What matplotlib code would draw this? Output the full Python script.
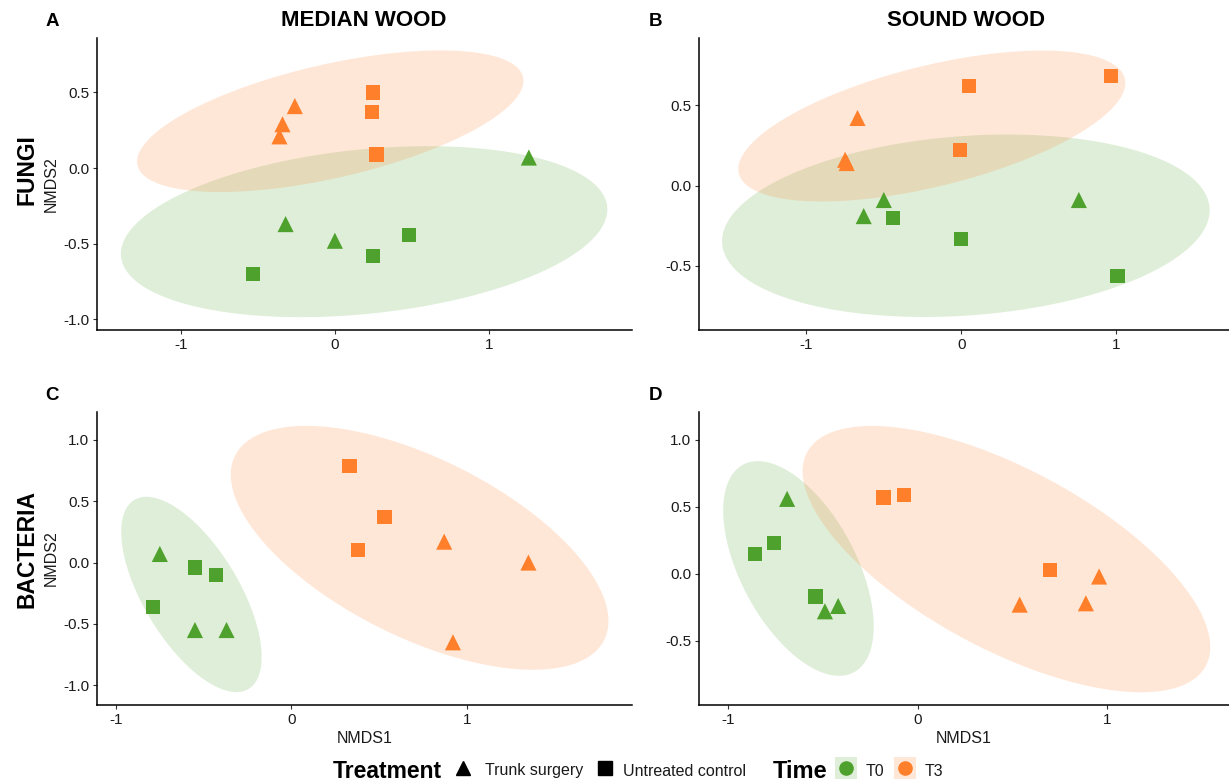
import numpy as np
import matplotlib
matplotlib.use("Agg")
import matplotlib.pyplot as plt
from matplotlib.patches import Polygon, Rectangle

plt.rcParams['font.family'] = ['Liberation Sans', 'DejaVu Sans']

# ---- data: NMDS scores per panel (x = NMDS1, y = NMDS2) ----
# Panel A: fungi, median wood
a_t0_surgery_x = [1.26, -0.32, 0.00]
a_t0_surgery_y = [0.07, -0.37, -0.48]
a_t0_control_x = [-0.53, 0.25, 0.48]
a_t0_control_y = [-0.70, -0.58, -0.44]
a_t3_surgery_x = [-0.26, -0.34, -0.36]
a_t3_surgery_y = [0.41, 0.29, 0.21]
a_t3_control_x = [0.25, 0.24, 0.27]
a_t3_control_y = [0.50, 0.37, 0.09]

# Panel B: fungi, sound wood
b_t0_surgery_x = [-0.50, -0.63, 0.76]
b_t0_surgery_y = [-0.09, -0.19, -0.09]
b_t0_control_x = [-0.44, 0.00, 1.01]
b_t0_control_y = [-0.20, -0.33, -0.56]
b_t3_surgery_x = [-0.67, -0.75, -0.74]
b_t3_surgery_y = [0.42, 0.16, 0.14]
b_t3_control_x = [0.97, 0.05, -0.01]
b_t3_control_y = [0.68, 0.62, 0.22]

# Panel C: bacteria, median wood
c_t0_surgery_x = [-0.75, -0.55, -0.37]
c_t0_surgery_y = [0.07, -0.55, -0.55]
c_t0_control_x = [-0.55, -0.43, -0.79]
c_t0_control_y = [-0.04, -0.10, -0.36]
c_t3_surgery_x = [0.87, 1.35, 0.92]
c_t3_surgery_y = [0.17, 0.00, -0.65]
c_t3_control_x = [0.33, 0.53, 0.38]
c_t3_control_y = [0.79, 0.37, 0.10]

# Panel D: bacteria, sound wood
d_t0_surgery_x = [-0.69, -0.49, -0.42]
d_t0_surgery_y = [0.56, -0.28, -0.24]
d_t0_control_x = [-0.86, -0.76, -0.54]
d_t0_control_y = [0.15, 0.23, -0.17]
d_t3_surgery_x = [0.54, 0.89, 0.96]
d_t3_surgery_y = [-0.23, -0.22, -0.02]
d_t3_control_x = [-0.18, -0.07, 0.70]
d_t3_control_y = [0.57, 0.59, 0.03]

# 95% ellipses per group: centre x, centre y, half-range x, half-range y, correlation
a_t0_ellipse = [0.19, -0.42, 1.58, 0.565, 0.26]
a_t3_ellipse = [-0.03, 0.31, 1.255, 0.468, 0.57]
b_t0_ellipse = [0.03, -0.25, 1.575, 0.567, 0.17]
b_t3_ellipse = [-0.19, 0.37, 1.25, 0.469, 0.57]
c_t0_ellipse = [-0.57, -0.26, 0.40, 0.796, -0.64]
c_t3_ellipse = [0.73, 0.12, 1.076, 0.994, -0.60]
d_t0_ellipse = [-0.63, 0.04, 0.398, 0.802, -0.54]
d_t3_ellipse = [0.47, 0.11, 1.078, 0.995, -0.66]

panel_letters = ["A", "B", "C", "D"]
column_titles = ["MEDIAN WOOD", "SOUND WOOD"]
row_titles = ["FUNGI", "BACTERIA"]
time_labels = ["T0", "T3"]
treatment_labels = ["Trunk surgery", "Untreated control"]

GREEN = "#4EA12C"
ORANGE = "#FF7F2A"
FILL_ALPHA = 0.18
TEXT = "#1a1a1a"

W, H = 1229, 784
fig = plt.figure(figsize=(W / 100, H / 100), dpi=100)


def px_axes(left, top, right, bottom):
    return fig.add_axes([left / W, 1 - bottom / H, (right - left) / W, (bottom - top) / H])


def ellipse_polygon(ax, params, color):
    cx, cy, a, b, r = params
    t = np.linspace(0, 2 * np.pi, 241)
    xs = cx + a * np.cos(t)
    ys = cy + b * (r * np.cos(t) + np.sqrt(1 - r * r) * np.sin(t))
    ax.add_patch(Polygon(np.column_stack([xs, ys]), closed=True,
                         facecolor=color, alpha=FILL_ALPHA, edgecolor='none', zorder=1))


panels = [
    dict(box=(97, 38, 632, 330), xlim=(-1.545, 1.93), ylim=(-1.07, 0.86),
         yticks=[-1.0, -0.5, 0.0, 0.5],
         t0=(a_t0_surgery_x, a_t0_surgery_y, a_t0_control_x, a_t0_control_y, a_t0_ellipse),
         t3=(a_t3_surgery_x, a_t3_surgery_y, a_t3_control_x, a_t3_control_y, a_t3_ellipse)),
    dict(box=(699, 38, 1229, 330), xlim=(-1.694, 1.73), ylim=(-0.898, 0.917),
         yticks=[-0.5, 0.0, 0.5],
         t0=(b_t0_surgery_x, b_t0_surgery_y, b_t0_control_x, b_t0_control_y, b_t0_ellipse),
         t3=(b_t3_surgery_x, b_t3_surgery_y, b_t3_control_x, b_t3_control_y, b_t3_ellipse)),
    dict(box=(97, 412, 632, 705), xlim=(-1.108, 1.94), ylim=(-1.161, 1.227),
         yticks=[-1.0, -0.5, 0.0, 0.5, 1.0],
         t0=(c_t0_surgery_x, c_t0_surgery_y, c_t0_control_x, c_t0_control_y, c_t0_ellipse),
         t3=(c_t3_surgery_x, c_t3_surgery_y, c_t3_control_x, c_t3_control_y, c_t3_ellipse)),
    dict(box=(699, 412, 1229, 705), xlim=(-1.156, 1.647), ylim=(-0.98, 1.209),
         yticks=[-0.5, 0.0, 0.5, 1.0],
         t0=(d_t0_surgery_x, d_t0_surgery_y, d_t0_control_x, d_t0_control_y, d_t0_ellipse),
         t3=(d_t3_surgery_x, d_t3_surgery_y, d_t3_control_x, d_t3_control_y, d_t3_ellipse)),
]

for i, p in enumerate(panels):
    ax = px_axes(*p["box"])
    ax.set_xlim(*p["xlim"])
    ax.set_ylim(*p["ylim"])
    for group, color in ((p["t0"], GREEN), (p["t3"], ORANGE)):
        ellipse_polygon(ax, group[4], color)
    for group, color in ((p["t0"], GREEN), (p["t3"], ORANGE)):
        sx, sy, cx_, cy_, _ = group
        ax.scatter(sx, sy, marker='^', s=135, color=color, edgecolors='none', zorder=3)
        ax.scatter(cx_, cy_, marker='s', s=105, color=color, edgecolors='none', zorder=3)
    ax.set_xticks([-1, 0, 1])
    ax.set_xticklabels(["-1", "0", "1"])
    ax.set_yticks(p["yticks"])
    ax.set_yticklabels([f"{v:.1f}" for v in p["yticks"]])
    for s in ("top", "right"):
        ax.spines[s].set_visible(False)
    for s in ("left", "bottom"):
        ax.spines[s].set_linewidth(1.1)
        ax.spines[s].set_color("black")
    ax.tick_params(axis='both', length=3, width=0.8, color="#333333",
                   labelsize=11, labelcolor=TEXT, pad=2.5)
    ax.set_facecolor("none")
    if i in (0, 2):
        ax.set_ylabel("NMDS2", fontsize=11.5, labelpad=3, color=TEXT)
    if i in (2, 3):
        ax.set_xlabel("NMDS1", fontsize=11.5, labelpad=3, color=TEXT)

# panel letters and titles
for letter, (x, y) in zip(panel_letters, [(52, 22), (655, 22), (52, 396), (655, 396)]):
    fig.text(x / W, 1 - y / H, letter, fontsize=13.5, fontweight='bold', ha='center', va='center')
for title, x in zip(column_titles, [364, 966]):
    fig.text(x / W, 1 - 20 / H, title, fontsize=16, fontweight='bold', ha='center', va='center')
for title, y in zip(row_titles, [170, 549]):
    fig.text(27 / W, 1 - y / H, title, fontsize=16.5, fontweight='bold', ha='center', va='center',
             rotation=90)

# bottom legend
leg = fig.add_axes([0, 0, 1, 1], zorder=5)
leg.set_xlim(0, W)
leg.set_ylim(H, 0)
leg.axis('off')
ly = 771
leg.text(333, ly + 1, "Treatment", fontsize=16.5, fontweight='bold', ha='left', va='center')
leg.plot([463], [ly - 3], marker='^', markersize=10.5, color='black', linestyle='none')
leg.text(485, ly, treatment_labels[0], fontsize=11.5, ha='left', va='center', color=TEXT)
leg.plot([605], [ly - 3], marker='s', markersize=9.5, color='black', linestyle='none')
leg.text(623, ly, treatment_labels[1], fontsize=11.5, ha='left', va='center', color=TEXT)
leg.text(773, ly + 1, "Time", fontsize=17, fontweight='bold', ha='left', va='center')
for (kx, tx), color, lab in zip([(846, 866), (905, 925)], [GREEN, ORANGE], time_labels):
    leg.add_patch(Rectangle((kx - 11, ly - 14), 22, 22, facecolor=color, alpha=FILL_ALPHA,
                            edgecolor='none'))
    leg.plot([kx], [ly - 3], marker='o', markersize=9.5, color=color, linestyle='none')
    leg.text(tx, ly, lab, fontsize=11.5, ha='left', va='center', color=TEXT)

fig.savefig("out.png", dpi=100, facecolor='white')
